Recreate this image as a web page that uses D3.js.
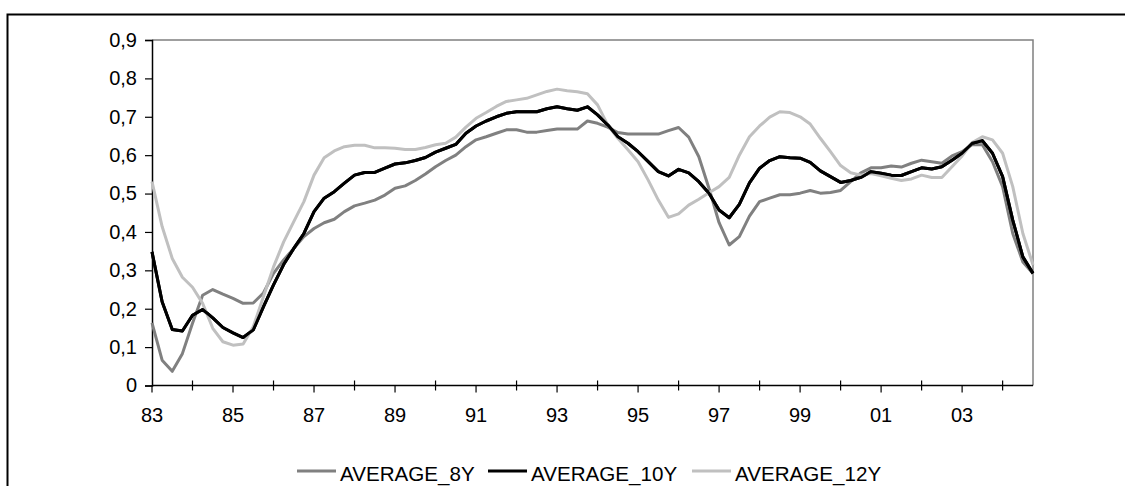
<!DOCTYPE html>
<html>
<head>
<meta charset="utf-8">
<script src="https://cdn.jsdelivr.net/npm/d3@7"></script>
<style>
  html, body { margin: 0; padding: 0; background: #fff; }
  svg { display: block; font-family: "Liberation Sans", Arial, sans-serif; }
</style>
</head>
<body>
<svg id="chart" width="1125" height="486"></svg>
<script>
// Quarterly observations, 1983 Q1 – 2004 Q4
const startYear = 1983;
const yearTicks = d3.range(1983, 2005);           // one tick per year
const labelYears = ["83","85","87","89","91","93","95","97","99","01","03"];
const yTicks = [0, 0.1, 0.2, 0.3, 0.4, 0.5, 0.6, 0.7, 0.8, 0.9];

const average8Y = [
  0.163, 0.066, 0.037, 0.083, 0.162, 0.235, 0.250, 0.238, 0.227, 0.214,
  0.215, 0.241, 0.292, 0.327, 0.357, 0.388, 0.409, 0.424, 0.433, 0.453,
  0.468, 0.475, 0.483, 0.496, 0.514, 0.520, 0.534, 0.551, 0.570, 0.586,
  0.600, 0.622, 0.640, 0.648, 0.657, 0.666, 0.666, 0.660, 0.660, 0.664,
  0.668, 0.668, 0.668, 0.689, 0.683, 0.673, 0.659, 0.655, 0.655, 0.655,
  0.655, 0.664, 0.672, 0.647, 0.596, 0.514, 0.424, 0.366, 0.388, 0.441,
  0.479, 0.488, 0.497, 0.497, 0.501, 0.508, 0.501, 0.503, 0.508, 0.531,
  0.554, 0.567, 0.567, 0.572, 0.569, 0.579, 0.587, 0.583, 0.579, 0.598,
  0.609, 0.628, 0.627, 0.583, 0.518, 0.396, 0.322, 0.292
];
const average10Y = [
  0.348, 0.218, 0.146, 0.142, 0.183, 0.198, 0.176, 0.151, 0.137, 0.125,
  0.145, 0.205, 0.262, 0.315, 0.357, 0.396, 0.453, 0.488, 0.505, 0.527,
  0.548, 0.555, 0.555, 0.566, 0.577, 0.580, 0.586, 0.594, 0.608, 0.618,
  0.628, 0.657, 0.676, 0.689, 0.700, 0.709, 0.713, 0.713, 0.713, 0.721,
  0.726, 0.721, 0.717, 0.726, 0.705, 0.679, 0.648, 0.631, 0.609, 0.583,
  0.557, 0.546, 0.563, 0.554, 0.531, 0.501, 0.457, 0.437, 0.472, 0.528,
  0.566, 0.586, 0.596, 0.593, 0.592, 0.581, 0.559, 0.544, 0.529, 0.534,
  0.542, 0.557, 0.553, 0.548, 0.547, 0.557, 0.567, 0.564, 0.570, 0.587,
  0.605, 0.631, 0.638, 0.605, 0.544, 0.431, 0.335, 0.292
];
const average12Y = [
  0.531, 0.414, 0.331, 0.282, 0.256, 0.214, 0.149, 0.114, 0.105, 0.108,
  0.153, 0.231, 0.309, 0.374, 0.427, 0.479, 0.548, 0.593, 0.611, 0.622,
  0.626, 0.626, 0.619, 0.619, 0.618, 0.615, 0.615, 0.620, 0.627, 0.631,
  0.647, 0.673, 0.696, 0.711, 0.727, 0.740, 0.744, 0.748, 0.757, 0.766,
  0.772, 0.768, 0.765, 0.760, 0.731, 0.679, 0.644, 0.614, 0.583, 0.535,
  0.483, 0.438, 0.447, 0.470, 0.485, 0.502, 0.518, 0.542, 0.600, 0.648,
  0.676, 0.699, 0.713, 0.711, 0.700, 0.681, 0.644, 0.609, 0.573, 0.554,
  0.548, 0.552, 0.546, 0.540, 0.534, 0.538, 0.548, 0.542, 0.542, 0.570,
  0.598, 0.633, 0.648, 0.640, 0.605, 0.518, 0.396, 0.314
];

const seriesNames = ["AVERAGE_8Y", "AVERAGE_10Y", "AVERAGE_12Y"];
const seriesValues = [average8Y, average10Y, average12Y];
const seriesColors = ["#808080", "#000000", "#c0c0c0"];

const svg = d3.select("#chart");
const plot = { left: 152, right: 1033, top: 40, bottom: 385.5 };
const fontSize = 20;
const legendFontSize = 20.6;

// Outer frame
svg.append("rect")
  .attr("x", 7.5).attr("y", 14.5)
  .attr("width", 1300).attr("height", 600)
  .attr("fill", "none").attr("stroke", "#000").attr("stroke-width", 2);

const quarterTime = i => startYear + i / 4;
const x = d3.scaleLinear()
  .domain([startYear, quarterTime(average10Y.length - 1)])
  .range([plot.left, plot.right]);
const y = d3.scaleLinear().domain([0, 0.9]).range([plot.bottom, plot.top]);

// Plot area top and right edges
svg.append("path")
  .attr("d", `M${plot.left},${plot.top}H${plot.right}V${plot.bottom}`)
  .attr("fill", "none").attr("stroke", "#808080").attr("stroke-width", 1.5);

// Y axis
const locale = d3.formatLocale({ decimal: ",", thousands: ".", grouping: [3], currency: ["", ""] });
const fmt = v => v === 0 ? "0" : locale.format(".1f")(v);
const yAxis = svg.append("g")
  .attr("transform", `translate(${plot.left},0)`)
  .call(d3.axisLeft(y).tickValues(yTicks).tickFormat(fmt).tickSize(7).tickPadding(8));
yAxis.select(".domain").attr("stroke", "#000").attr("stroke-width", 1.5);
yAxis.selectAll(".tick line").attr("stroke", "#000").attr("stroke-width", 1.2);
yAxis.selectAll(".tick text").attr("font-size", fontSize).attr("fill", "#000")
  .attr("font-family", "Liberation Sans, Arial, sans-serif");

// X axis: labelled years get outside ticks, others cross the axis
const xAxis = svg.append("g");
xAxis.append("line")
  .attr("x1", plot.left).attr("x2", plot.right)
  .attr("y1", plot.bottom).attr("y2", plot.bottom)
  .attr("stroke", "#000").attr("stroke-width", 1.5);
xAxis.selectAll("line.tick")
  .data(yearTicks)
  .join("line")
  .attr("class", "tick")
  .attr("x1", d => x(d)).attr("x2", d => x(d))
  .attr("y1", d => (d - startYear) % 2 === 0 ? plot.bottom : plot.bottom - 5)
  .attr("y2", d => (d - startYear) % 2 === 0 ? plot.bottom + 7 : plot.bottom + 5)
  .attr("stroke", "#000").attr("stroke-width", 1.2);
xAxis.selectAll("text")
  .data(labelYears)
  .join("text")
  .attr("x", (d, i) => x(startYear + 2 * i))
  .attr("y", 422)
  .attr("text-anchor", "middle")
  .attr("font-size", fontSize)
  .text(d => d);

// Series lines
const line = d3.line()
  .x((d, i) => x(quarterTime(i)))
  .y(d => y(d));
seriesValues.forEach((vals, s) => {
  svg.append("path")
    .datum(vals)
    .attr("d", line)
    .attr("fill", "none")
    .attr("stroke", seriesColors[s])
    .attr("stroke-width", 3)
    .attr("stroke-linejoin", "round");
});
// redraw the 10Y line on top so the black series sits above the others
svg.append("path")
  .datum(average10Y)
  .attr("d", line)
  .attr("fill", "none")
  .attr("stroke", "#000")
  .attr("stroke-width", 3)
  .attr("stroke-linejoin", "round");

// Legend
const legendX = [297, 488, 692];
const legend = svg.append("g");
seriesNames.forEach((name, s) => {
  legend.append("line")
    .attr("x1", legendX[s]).attr("x2", legendX[s] + 39)
    .attr("y1", 471).attr("y2", 471)
    .attr("stroke", seriesColors[s]).attr("stroke-width", 3);
  legend.append("text")
    .attr("x", legendX[s] + 43).attr("y", 481)
    .attr("font-size", legendFontSize)
    .text(name);
});
</script>
</body>
</html>
